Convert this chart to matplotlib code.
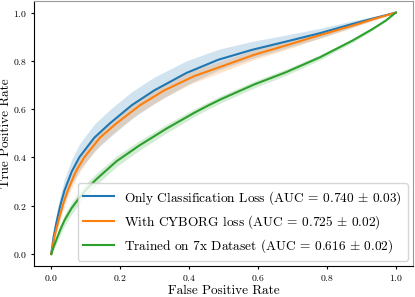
import numpy as np
import matplotlib
matplotlib.use("Agg")
import matplotlib.pyplot as plt

plt.rcParams['font.family'] = ['cmr10', 'DejaVu Serif']
plt.rcParams['mathtext.fontset'] = 'cm'
plt.rcParams['axes.formatter.use_mathtext'] = True

# Series
blue_fpr = [0, 0.007, 0.0145, 0.026, 0.0386, 0.06, 0.082, 0.125, 0.169, 0.234, 0.299, 0.392, 0.485, 0.583, 0.681, 0.78, 0.874, 0.937, 1.0]
blue_tpr = [0, 0.072, 0.127, 0.2, 0.264, 0.343, 0.402, 0.482, 0.54, 0.617, 0.678, 0.75, 0.805, 0.846, 0.88, 0.915, 0.953, 0.977, 1.0]
blue_std = [0, 0.025, 0.035, 0.042, 0.047, 0.051, 0.054, 0.056, 0.057, 0.056, 0.055, 0.05, 0.043, 0.035, 0.027, 0.02, 0.013, 0.007, 0]

orange_fpr = [0, 0.0095, 0.019, 0.0335, 0.048, 0.072, 0.0965, 0.142, 0.188, 0.258, 0.328, 0.415, 0.502, 0.59, 0.681, 0.78, 0.874, 0.937, 1.0]
orange_tpr = [0, 0.075, 0.127, 0.203, 0.264, 0.344, 0.402, 0.483, 0.54, 0.617, 0.678, 0.737, 0.781, 0.826, 0.864, 0.907, 0.946, 0.974, 1.0]
orange_std = [0, 0.018, 0.022, 0.026, 0.028, 0.03, 0.03, 0.03, 0.03, 0.029, 0.028, 0.026, 0.023, 0.02, 0.017, 0.013, 0.009, 0.005, 0]

green_fpr = [0, 0.007, 0.0145, 0.026, 0.0386, 0.059, 0.08, 0.105, 0.131, 0.19, 0.256, 0.335, 0.415, 0.455, 0.495, 0.59, 0.681, 0.78, 0.874, 0.93, 0.971, 1.0]
green_tpr = [0, 0.03, 0.058, 0.1, 0.14, 0.19, 0.23, 0.273, 0.31, 0.385, 0.45, 0.52, 0.585, 0.615, 0.643, 0.703, 0.753, 0.815, 0.884, 0.93, 0.967, 1.0]
green_std = [0, 0.012, 0.018, 0.022, 0.024, 0.025, 0.025, 0.025, 0.024, 0.022, 0.02, 0.018, 0.016, 0.015, 0.015, 0.014, 0.013, 0.011, 0.008, 0.006, 0.004, 0]

labels = [r"Only Classification Loss (AUC = 0.740 $\pm$ 0.03)",
          r"With CYBORG loss (AUC = 0.725 $\pm$ 0.02)",
          r"Trained on 7x Dataset (AUC = 0.616 $\pm$ 0.02)"]
colors = ["tab:blue", "tab:orange", "tab:green"]

fig = plt.figure(figsize=(4.15, 2.97), dpi=100)
ax = fig.add_axes([0.082, 0.104, 0.913, 0.894])

series = [(blue_fpr, blue_tpr, blue_std), (orange_fpr, orange_tpr, orange_std), (green_fpr, green_tpr, green_std)]
for (f, t, s), c, lab in zip(series, colors, labels):
    f = np.array(f); t = np.array(t); s = np.array(s)
    ax.plot(f, t, color=c, lw=1.5, label=lab)
    ax.fill_between(f, np.clip(t - s, 0, 1), np.clip(t + s, 0, 1), color=c, alpha=0.2, lw=0)

ax.set_xlim(-0.05, 1.05)
ax.set_ylim(-0.05, 1.05)
ax.set_xticks([0, 0.2, 0.4, 0.6, 0.8, 1.0])
ax.set_yticks([0, 0.2, 0.4, 0.6, 0.8, 1.0])
ax.tick_params(labelsize=7, length=2.5, pad=2.5)
ax.spines['top'].set_color('#999999')
ax.spines['right'].set_color('#999999')
ax.set_xlabel("False Positive Rate", fontsize=9.5, labelpad=1)
ax.set_ylabel("True Positive Rate", fontsize=9.5, labelpad=1)
ax.legend(loc="lower right", fontsize=9.6, handlelength=2.3, borderaxespad=0.4)

fig.savefig("out.png", dpi=100)
